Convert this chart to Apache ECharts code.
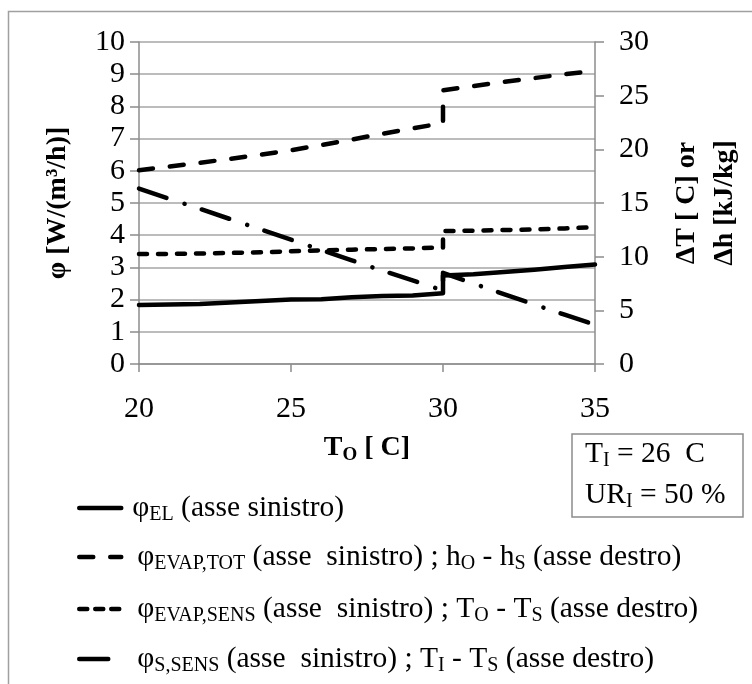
<!DOCTYPE html>
<html>
<head>
<meta charset="utf-8">
<script src="https://cdn.jsdelivr.net/npm/echarts@6/dist/echarts.min.js"></script>
<style>
  html, body { margin: 0; padding: 0; background: #fff; }
  #chart { width: 752px; height: 684px; }
</style>
</head>
<body>
<div id="chart"></div>
<script>
// temperatura esterna T_O, il punto 30 compare due volte (salto)
var xVals = [20, 21, 22, 23, 24, 25, 26, 27, 28, 29, 30, 30, 31, 32, 33, 34, 35];
var phiEl = [1.83, 1.85, 1.86, 1.91, 1.96, 2.0, 2.01, 2.07, 2.11, 2.13, 2.2, 2.75, 2.79, 2.86, 2.93, 3.01, 3.09];
var phiEvapTot = [6.02, 6.13, 6.25, 6.37, 6.5, 6.64, 6.8, 6.97, 7.15, 7.32, 7.48, 8.5, 8.63, 8.76, 8.88, 9.0, 9.1];
var phiEvapSens = [3.42, 3.42, 3.43, 3.45, 3.47, 3.5, 3.53, 3.55, 3.57, 3.59, 3.62, 4.13, 4.14, 4.16, 4.18, 4.21, 4.25];
var phiSSens = [5.45, 5.13, 4.82, 4.5, 4.18, 3.86, 3.54, 3.22, 2.9, 2.6, 2.28, 2.83, 2.5, 2.17, 1.85, 1.53, 1.22];

var seriesNames = ['el', 'evapTot', 'evapSens', 'sSens'];
var legendLabels = {
  el: '{sp1| }{p|φ}{s|EL}{t| (asse sinistro)}',
  evapTot: '{sp2| }{p|φ}{s|EVAP,TOT}{t| (asse  sinistro) ; h}{s|O}{t| - h}{s|S}{t| (asse destro)}',
  evapSens: '{sp2| }{p|φ}{s|EVAP,SENS}{t| (asse  sinistro) ; T}{s|O}{t| - T}{s|S}{t| (asse destro)}',
  sSens: '{sp2| }{p|φ}{s|S,SENS}{t| (asse  sinistro) ; T}{s|I}{t| - T}{s|S}{t| (asse destro)}'
};
var legendTops = [493, 542, 594, 644];
var legendDash = ['solid', [14, 17], [8, 8], [29, 19, 0.1, 18]];

var FONT = "'Liberation Serif', 'Times New Roman', serif";
var GRID_COLOR = '#a6a6a6';
var AXIS_COLOR = '#8c8c8c';

function pairs(ys) {
  return xVals.map(function (x, i) { return [x, ys[i]]; });
}

var richText = {
  sp1: { width: 6, fontSize: 29.5, lineHeight: 34, fontFamily: FONT },
  sp2: { width: 11, fontSize: 29.5, lineHeight: 34, fontFamily: FONT },
  p: { fontSize: 29.5, lineHeight: 34, fontFamily: FONT, color: '#000' },
  t: { fontSize: 29.5, lineHeight: 34, fontFamily: FONT, color: '#000' },
  s: { fontSize: 20, lineHeight: 16, verticalAlign: 'bottom', fontFamily: FONT, color: '#000' }
};

var legends = seriesNames.map(function (n, i) {
  return {
    data: [n],
    left: 77,
    top: legendTops[i],
    padding: 0,
    itemWidth: 42,
    itemHeight: 14,
    selectedMode: false,
    itemStyle: { opacity: 0 },
    lineStyle: { color: '#000', width: 4.5, type: legendDash[i], cap: 'round' },
    formatter: function (name) { return legendLabels[name]; },
    textStyle: { rich: richText }
  };
});

function lineSeries(name, values, width, type) {
  return {
    name: name,
    type: 'line',
    yAxisIndex: 0,
    data: pairs(values),
    symbol: 'none',
    showSymbol: false,
    animation: false,
    lineStyle: { color: '#000', width: width, type: type, cap: 'round', join: 'round' },
    itemStyle: { color: '#000' }
  };
}

function tickLabel(margin) {
  return { margin: margin, fontSize: 30, fontFamily: FONT, color: '#000' };
}

var chart = echarts.init(document.getElementById('chart'));
chart.setOption({
  backgroundColor: '#fff',
  animation: false,
  textStyle: { fontFamily: FONT, color: '#000' },
  grid: { left: 139, right: 156, top: 42, bottom: 320 },
  legend: legends,
  xAxis: {
    type: 'value',
    min: 20,
    max: 35,
    interval: 5,
    name: '{b|T}{bs|O}{b| [ C]}',
    nameLocation: 'middle',
    nameGap: 67,
    nameTextStyle: {
      rich: {
        b: { fontSize: 28, fontWeight: 'bold', lineHeight: 34, fontFamily: FONT, color: '#000' },
        bs: { fontSize: 19, fontWeight: 'bold', lineHeight: 16, verticalAlign: 'bottom', fontFamily: FONT, color: '#000' }
      }
    },
    axisLine: { lineStyle: { color: AXIS_COLOR, width: 1.5 } },
    axisTick: { show: true, length: 8, lineStyle: { color: AXIS_COLOR, width: 1.5 } },
    axisLabel: tickLabel(30),
    splitLine: { show: false }
  },
  yAxis: [
    {
      type: 'value',
      position: 'left',
      min: 0,
      max: 10,
      interval: 1,
      name: 'φ [W/(m³/h)]',
      nameLocation: 'middle',
      nameRotate: 90,
      nameGap: 66,
      nameTextStyle: { fontSize: 28, fontWeight: 'bold', fontFamily: FONT, color: '#000', lineHeight: 30 },
      axisLine: { show: true, lineStyle: { color: AXIS_COLOR, width: 1.5 } },
      axisTick: { show: true, length: 9, lineStyle: { color: AXIS_COLOR, width: 1.5 } },
      axisLabel: tickLabel(14),
      splitLine: { show: true, lineStyle: { color: GRID_COLOR, width: 1.5 } }
    },
    {
      type: 'value',
      position: 'right',
      min: 0,
      max: 30,
      interval: 5,
      name: 'ΔT [ C] or\nΔh [kJ/kg]',
      nameLocation: 'middle',
      nameRotate: 90,
      nameGap: 73,
      nameTextStyle: { fontSize: 28, fontWeight: 'bold', fontFamily: FONT, color: '#000', lineHeight: 38 },
      axisLine: { show: true, lineStyle: { color: AXIS_COLOR, width: 1.5 } },
      axisTick: { show: true, length: 9, lineStyle: { color: AXIS_COLOR, width: 1.5 } },
      axisLabel: tickLabel(24),
      splitLine: { show: false }
    }
  ],
  series: [
    lineSeries('el', phiEl, 4.5, 'solid'),
    lineSeries('evapTot', phiEvapTot, 4.5, [14, 17]),
    lineSeries('evapSens', phiEvapSens, 4.5, [8, 11]),
    lineSeries('sSens', phiSSens, 4.5, [29, 19, 0.1, 18])
  ],
  graphic: [
    // cornice esterna (tagliata a destra e in basso)
    {
      type: 'rect',
      silent: true,
      shape: { x: 8.5, y: 11.5, width: 900, height: 900 },
      style: { fill: 'none', stroke: '#a0a0a0', lineWidth: 1.5 }
    },
    // riquadro condizioni interne
    {
      type: 'rect',
      silent: true,
      shape: { x: 572, y: 434, width: 171, height: 83 },
      style: { fill: '#fff', stroke: '#8c8c8c', lineWidth: 1.5 }
    },
    {
      type: 'text',
      silent: true,
      left: 585,
      top: 439,
      style: { text: '{t|T}{s|I}{t| = 26  C}', rich: richText }
    },
    {
      type: 'text',
      silent: true,
      left: 585,
      top: 480,
      style: { text: '{t|UR}{s|I}{t| = 50 %}', rich: richText }
    }
  ]
});
</script>
</body>
</html>
